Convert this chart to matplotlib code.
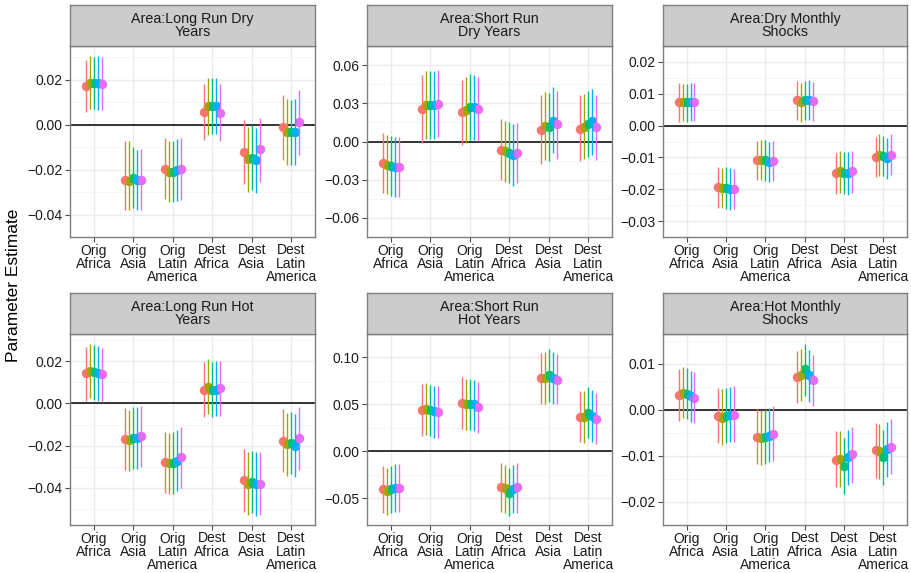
import matplotlib
matplotlib.use("Agg")
import matplotlib.pyplot as plt
import matplotlib.transforms as mtransforms
import numpy as np

categories = ["Orig\nAfrica", "Orig\nAsia", "Orig\nLatin\nAmerica",
              "Dest\nAfrica", "Dest\nAsia", "Dest\nLatin\nAmerica"]
series_colors = ["#F8766D", "#A3A500", "#00BF7D", "#00B0F6", "#E76BF3"]
panel_titles = ["Area:Long Run Dry\nYears", "Area:Short Run\nDry Years", "Area:Dry Monthly\nShocks",
                "Area:Long Run Hot\nYears", "Area:Short Run\nHot Years", "Area:Hot Monthly\nShocks"]

# rows = categories, cols = series
lrdry_est = [[0.0171, 0.0185, 0.0185, 0.0185, 0.0181],
             [-0.0248, -0.0249, -0.0237, -0.0246, -0.0246],
             [-0.0196, -0.0210, -0.0210, -0.0202, -0.0196],
             [0.0056, 0.0083, 0.0084, 0.0083, 0.0054],
             [-0.0121, -0.0152, -0.0146, -0.0155, -0.0110],
             [-0.0012, -0.0033, -0.0033, -0.0031, 0.0011]]
lrdry_lo = [[0.0056, 0.0069, 0.0069, 0.0068, 0.0065],
            [-0.0380, -0.0381, -0.0373, -0.0381, -0.0380],
            [-0.0332, -0.0346, -0.0346, -0.0339, -0.0335],
            [-0.0069, -0.0044, -0.0040, -0.0040, -0.0072],
            [-0.0264, -0.0298, -0.0290, -0.0302, -0.0257],
            [-0.0155, -0.0178, -0.0180, -0.0178, -0.0135]]
lrdry_hi = [[0.0287, 0.0305, 0.0303, 0.0305, 0.0301],
            [-0.0073, -0.0073, -0.0101, -0.0114, -0.0107],
            [-0.0057, -0.0071, -0.0071, -0.0063, -0.0057],
            [0.0182, 0.0208, 0.0210, 0.0207, 0.0180],
            [0.0022, -0.0012, 0.0001, -0.0016, 0.0031],
            [0.0131, 0.0113, 0.0111, 0.0113, 0.0154]]

srdry_est = [[-0.0168, -0.0183, -0.0194, -0.0201, -0.0201],
             [0.0257, 0.0284, 0.0284, 0.0284, 0.0298],
             [0.0228, 0.0246, 0.0268, 0.0268, 0.0257],
             [-0.0063, -0.0078, -0.0094, -0.0107, -0.0089],
             [0.0094, 0.0123, 0.0112, 0.0161, 0.0134],
             [0.0101, 0.0116, 0.0134, 0.0161, 0.0112]]
srdry_lo = [[-0.0403, -0.0414, -0.0429, -0.0433, -0.0433],
            [-0.0011, 0.0018, 0.0018, 0.0018, 0.0034],
            [-0.0027, -0.0011, 0.0011, 0.0011, 0.0004],
            [-0.0302, -0.0317, -0.0329, -0.0347, -0.0329],
            [-0.0174, -0.0145, -0.0157, -0.0094, -0.0134],
            [-0.0157, -0.0139, -0.0119, -0.0107, -0.0145]]
srdry_hi = [[0.0067, 0.0052, 0.0040, 0.0034, 0.0034],
            [0.0519, 0.0553, 0.0555, 0.0553, 0.0564],
            [0.0481, 0.0508, 0.0530, 0.0526, 0.0510],
            [0.0179, 0.0163, 0.0150, 0.0134, 0.0145],
            [0.0362, 0.0391, 0.0380, 0.0425, 0.0396],
            [0.0362, 0.0376, 0.0396, 0.0414, 0.0369]]

drymon_est = [[0.0074, 0.0073, 0.0073, 0.0074, 0.0075],
              [-0.0194, -0.0195, -0.0195, -0.0200, -0.0199],
              [-0.0109, -0.0109, -0.0109, -0.0113, -0.0112],
              [0.0079, 0.0074, 0.0079, 0.0081, 0.0077],
              [-0.0148, -0.0144, -0.0148, -0.0149, -0.0143],
              [-0.0098, -0.0093, -0.0096, -0.0102, -0.0091]]
drymon_lo = [[0.0011, 0.0013, 0.0011, 0.0013, 0.0015],
             [-0.0259, -0.0260, -0.0261, -0.0266, -0.0263],
             [-0.0172, -0.0172, -0.0174, -0.0178, -0.0174],
             [0.0018, 0.0010, 0.0018, 0.0018, 0.0015],
             [-0.0216, -0.0211, -0.0216, -0.0218, -0.0211],
             [-0.0163, -0.0157, -0.0159, -0.0168, -0.0154]]
drymon_hi = [[0.0134, 0.0132, 0.0132, 0.0135, 0.0135],
             [-0.0131, -0.0132, -0.0131, -0.0134, -0.0135],
             [-0.0048, -0.0045, -0.0045, -0.0050, -0.0048],
             [0.0141, 0.0135, 0.0141, 0.0143, 0.0138],
             [-0.0085, -0.0079, -0.0082, -0.0083, -0.0079],
             [-0.0035, -0.0028, -0.0034, -0.0039, -0.0028]]

lrhot_est = [[0.0142, 0.0153, 0.0150, 0.0142, 0.0137],
             [-0.0170, -0.0173, -0.0165, -0.0165, -0.0155],
             [-0.0279, -0.0284, -0.0284, -0.0271, -0.0252],
             [0.0063, 0.0079, 0.0065, 0.0065, 0.0073],
             [-0.0363, -0.0382, -0.0374, -0.0382, -0.0382],
             [-0.0177, -0.0192, -0.0187, -0.0200, -0.0165]]
lrhot_lo = [[0.0012, 0.0024, 0.0018, 0.0012, 0.0008],
            [-0.0315, -0.0320, -0.0311, -0.0311, -0.0300],
            [-0.0426, -0.0430, -0.0428, -0.0415, -0.0399],
            [-0.0066, -0.0052, -0.0063, -0.0060, -0.0058],
            [-0.0512, -0.0528, -0.0520, -0.0531, -0.0528],
            [-0.0323, -0.0342, -0.0334, -0.0347, -0.0315]]
lrhot_hi = [[0.0265, 0.0280, 0.0278, 0.0273, 0.0264],
            [-0.0024, -0.0029, -0.0019, -0.0019, -0.0013],
            [-0.0137, -0.0142, -0.0137, -0.0126, -0.0111],
            [0.0194, 0.0209, 0.0196, 0.0201, 0.0201],
            [-0.0216, -0.0232, -0.0224, -0.0232, -0.0232],
            [-0.0027, -0.0044, -0.0040, -0.0051, -0.0019]]

srhot_est = [[-0.0405, -0.0422, -0.0405, -0.0394, -0.0388],
             [0.0436, 0.0452, 0.0436, 0.0425, 0.0418],
             [0.0519, 0.0501, 0.0501, 0.0501, 0.0470],
             [-0.0381, -0.0394, -0.0440, -0.0397, -0.0377],
             [0.0778, 0.0778, 0.0812, 0.0778, 0.0764],
             [0.0366, 0.0366, 0.0408, 0.0380, 0.0345]]
srhot_lo = [[-0.0658, -0.0674, -0.0658, -0.0647, -0.0647],
            [0.0159, 0.0172, 0.0159, 0.0141, 0.0141],
            [0.0242, 0.0228, 0.0228, 0.0218, 0.0200],
            [-0.0647, -0.0658, -0.0692, -0.0658, -0.0654],
            [0.0504, 0.0508, 0.0529, 0.0508, 0.0501],
            [0.0096, 0.0090, 0.0138, 0.0103, 0.0073]]
srhot_hi = [[-0.0152, -0.0173, -0.0152, -0.0139, -0.0139],
            [0.0712, 0.0726, 0.0709, 0.0695, 0.0695],
            [0.0788, 0.0771, 0.0771, 0.0760, 0.0743],
            [-0.0129, -0.0145, -0.0180, -0.0145, -0.0122],
            [0.1048, 0.1058, 0.1092, 0.1062, 0.1040],
            [0.0643, 0.0643, 0.0685, 0.0653, 0.0622]]

hotmon_est = [[0.0032, 0.0037, 0.0035, 0.0031, 0.0027],
              [-0.0013, -0.0017, -0.0013, -0.0011, -0.0010],
              [-0.0059, -0.0061, -0.0059, -0.0056, -0.0052],
              [0.0072, 0.0075, 0.0088, 0.0075, 0.0065],
              [-0.0109, -0.0107, -0.0121, -0.0103, -0.0096],
              [-0.0088, -0.0089, -0.0103, -0.0085, -0.0080]]
hotmon_lo = [[-0.0024, -0.0018, -0.0020, -0.0026, -0.0029],
             [-0.0072, -0.0077, -0.0071, -0.0070, -0.0069],
             [-0.0117, -0.0119, -0.0118, -0.0114, -0.0112],
             [0.0016, 0.0019, 0.0031, 0.0018, 0.0008],
             [-0.0168, -0.0168, -0.0182, -0.0164, -0.0158],
             [-0.0148, -0.0150, -0.0163, -0.0145, -0.0140]]
hotmon_hi = [[0.0088, 0.0094, 0.0091, 0.0084, 0.0082],
             [0.0048, 0.0045, 0.0048, 0.0049, 0.0051],
             [0.0001, 0.0000, 0.0001, 0.0005, 0.0008],
             [0.0129, 0.0132, 0.0144, 0.0130, 0.0120],
             [-0.0046, -0.0046, -0.0061, -0.0043, -0.0036],
             [-0.0029, -0.0031, -0.0043, -0.0026, -0.0019]]

y_ticks = [[-0.04, -0.02, 0.0, 0.02],
           [-0.06, -0.03, 0.0, 0.03, 0.06],
           [-0.03, -0.02, -0.01, 0.0, 0.01, 0.02],
           [-0.04, -0.02, 0.0, 0.02],
           [-0.05, 0.0, 0.05, 0.10],
           [-0.02, -0.01, 0.0, 0.01]]
y_limits = [(-0.0429, 0.0351), (-0.0606, 0.0676), (-0.0299, 0.0201),
            (-0.0575, 0.0328), (-0.0785, 0.1196), (-0.0201, 0.0165)]

panels = [(lrdry_est, lrdry_lo, lrdry_hi), (srdry_est, srdry_lo, srdry_hi),
          (drymon_est, drymon_lo, drymon_hi), (lrhot_est, lrhot_lo, lrhot_hi),
          (srhot_est, srhot_lo, srhot_hi), (hotmon_est, hotmon_lo, hotmon_hi)]

plt.rcParams['font.family'] = ['Liberation Sans', 'DejaVu Sans']
W, H = 911, 573
fig = plt.figure(figsize=(W / 100, H / 100), dpi=100)

col_x = [(70, 315), (367, 612), (663, 907)]
row_y = [(46, 237, 5), (334, 525, 293)]  # axes top, axes bottom, strip top

dodge = np.array([-0.2, -0.1, 0.0, 0.1, 0.2])
border_col = "#7F7F7F"
tick_font = 10
line_pitch = 13.2   # px between x-label lines
first_line = 13.5   # px from axes bottom to first label line centre

def fmt(v):
    s = f"{v:.2f}"
    return s.replace("-", "\u2212")

for i, (est, lo, hi) in enumerate(panels):
    r, c = divmod(i, 3)
    x0, x1 = col_x[c]
    top, bot, stop = row_y[r]
    ax = fig.add_axes([x0 / W, 1 - bot / H, (x1 - x0) / W, (bot - top) / H])
    sax = fig.add_axes([x0 / W, 1 - top / H, (x1 - x0) / W, (top - stop) / H])
    sax.set_facecolor("#CCCCCC")
    sax.set_xticks([]); sax.set_yticks([])
    for sp in sax.spines.values():
        sp.set_color(border_col); sp.set_linewidth(1.0)
    sax.text(0.5, 0.5, panel_titles[i], ha="center", va="center", fontsize=10.3,
             color="#1A1A1A", linespacing=0.95, transform=sax.transAxes)

    est = np.array(est); lo = np.array(lo); hi = np.array(hi)
    xs = np.arange(1, len(categories) + 1)
    ax.set_xlim(0.4, len(categories) + 0.6)
    ax.set_ylim(*y_limits[i])
    yt = y_ticks[i]
    ax.set_yticks(yt)
    ax.set_yticklabels([fmt(v) for v in yt])
    step = yt[1] - yt[0]
    minors = [yt[0] - step / 2] + [v + step / 2 for v in yt]
    ax.set_yticks(minors, minor=True)
    ax.set_xticks(xs)
    ax.set_xticklabels([""] * len(xs))
    ax.tick_params(axis="both", which="major", labelsize=tick_font, length=3.5,
                   width=0.8, color="#4D4D4D", labelcolor="#1A1A1A", pad=2)
    ax.tick_params(axis="both", which="minor", length=0)
    ax.grid(True, which="major", color="#EBEBEB", linewidth=1.0)
    ax.grid(True, which="minor", axis="y", color="#F5F5F5", linewidth=0.6)
    ax.set_axisbelow(True)
    for sp in ax.spines.values():
        sp.set_color(border_col); sp.set_linewidth(1.0)

    # category labels, one text per line
    for k, lab in enumerate(categories):
        for j, part in enumerate(lab.split("\n")):
            tr = mtransforms.offset_copy(ax.get_xaxis_transform(), fig=fig,
                                         y=-(first_line + j * line_pitch), units="dots")
            ax.text(xs[k], 0, part, transform=tr, ha="center", va="center",
                    fontsize=tick_font, color="#1A1A1A", clip_on=False)

    ax.axhline(0, color="black", linewidth=1.1, zorder=2)
    for s in range(est.shape[1]):
        ax.plot(xs + dodge[s], est[:, s], "o", color=series_colors[s], ms=6.8,
                mec="none", zorder=3)
    for s in range(est.shape[1]):
        ax.vlines(xs + dodge[s], lo[:, s], hi[:, s], color=series_colors[s],
                  linewidth=1.0, zorder=4)

fig.text(14 / W, 1 - 285 / H, "Parameter Estimate", rotation=90, ha="center",
         va="center", fontsize=12.5, color="black")

fig.savefig("out.png", dpi=100)
